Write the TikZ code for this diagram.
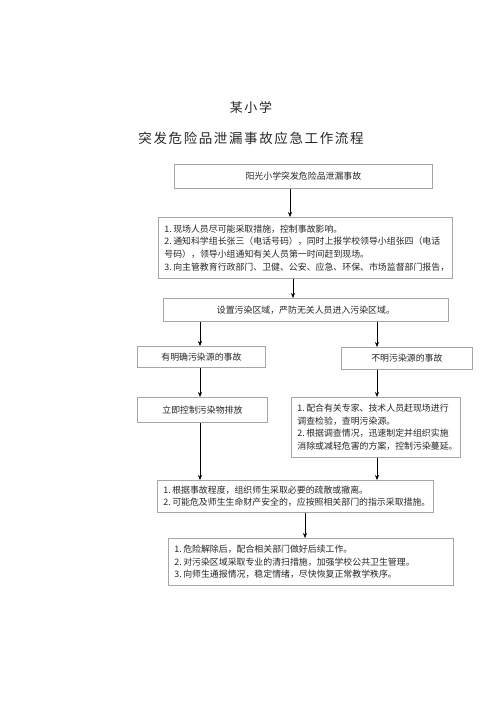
\documentclass[tikz,border=0pt]{standalone}
\usepackage{fontspec}
\newfontfamily\cjk{Noto Sans CJK SC}
\newfontfamily\cjktitle[LetterSpace=12]{Noto Sans CJK SC}
\usetikzlibrary{arrows.meta}

\begin{document}
\begin{tikzpicture}[x=1pt,y=-1pt,
  box/.style={draw=gray!70, line width=0.8pt, inner sep=0pt, anchor=north west, text=black!85, font=\cjk\fontsize{8.9}{12.6}\selectfont},
  listbox/.style={box, align=left},
  arr/.style={black, line width=0.6pt, -{Stealth[length=5pt,width=4pt]}}]
\useasboundingbox (0,0) rectangle (500,707);
%\node {\includegraphics{reference.png}};
\node[text=black!85, font=\cjktitle\fontsize{13}{13}\selectfont] (school) at (251,108) {某小学};
\node[text=black!85, font=\cjktitle\fontsize{13.5}{13.5}\selectfont] (title) at (251,138) {突发危险品泄漏事故应急工作流程};

\node[box, minimum width=258pt, minimum height=24pt] (accident) at (174,164) {阳光小学突发危险品泄漏事故};
\node[listbox, text width=282pt, minimum width=294pt, minimum height=61pt] (report) at (158,217) {1.\,现场人员尽可能采取措施，控制事故影响。\\
2.\,通知科学组长张三（电话号码），同时上报学校领导小组张四（电话\\
号码），领导小组通知有关人员第一时间赶到现场。\\
3.\,向主管教育行政部门、卫健、公安、应急、环保、市场监督部门报告，};
\node[box, minimum width=285pt, minimum height=23pt] (zone) at (163,298) {设置污染区域，严防无关人员进入污染区域。};

\node[box, minimum width=128pt, minimum height=21pt] (known) at (137,346) {有明确污染源的事故};
\node[box, minimum width=131pt, minimum height=22pt] (unknown) at (341,347) {不明污染源的事故};
\node[box, minimum width=130pt, minimum height=25pt] (control) at (137,397) {立即控制污染物排放};
\node[listbox, text width=157pt, minimum width=169pt, minimum height=60pt] (investigate) at (291,397) {1.\,配合有关专家、技术人员赶现场进行\\
调查检验，查明污染源。\\
2.\,根据调查情况，迅速制定并组织实施\\
消除或减轻危害的方案，控制污染蔓延。};

\node[listbox, text width=264pt, minimum width=276pt, minimum height=32pt] (evacuate) at (157,480) {1.\,根据事故程度，组织师生采取必要的疏散或撤离。\\
2.\,可能危及师生生命财产安全的，应按照相关部门的指示采取措施。};
\node[listbox, text width=273pt, minimum width=285pt, minimum height=47pt] (recover) at (168,538) {1.\,危险解除后，配合相关部门做好后续工作。\\
2.\,对污染区域采取专业的清扫措施，加强学校公共卫生管理。\\
3.\,向师生通报情况，稳定情绪，尽快恢复正常教学秩序。};

\coordinate (c1) at (290,0);
\coordinate (c2) at (293,0);
\coordinate (ca) at (200,0);
\coordinate (cb) at (377,0);
\coordinate (c3) at (305,0);
\draw[arr] (accident.south -| c1) -- (report.north -| c1);
\draw[arr] (report.south -| c2) -- (zone.north -| c2);
\draw[arr] (zone.south -| ca) -- (known.north -| ca);
\draw[arr] (zone.south -| cb) -- (unknown.north -| cb);
\draw[arr] (known.south -| ca) -- (control.north -| ca);
\draw[arr] (unknown.south -| cb) -- (investigate.north -| cb);
\draw[arr] (control.south -| ca) -- (evacuate.north -| ca);
\draw[arr] (investigate.south -| cb) -- (evacuate.north -| cb);
\draw[arr] (evacuate.south -| c3) -- (recover.north -| c3);

\end{tikzpicture}
\end{document}
